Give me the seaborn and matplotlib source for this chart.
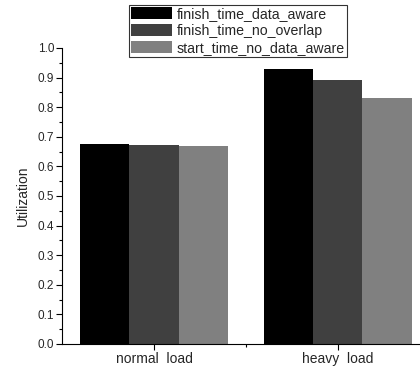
import matplotlib
matplotlib.use("Agg")
import matplotlib.pyplot as plt
import seaborn as sns
import pandas as pd
from matplotlib.ticker import MultipleLocator, FixedLocator

categories = ["normal  load", "heavy  load"]
series = ["finish_time_data_aware", "finish_time_no_overlap", "start_time_no_data_aware"]
finish_time_data_aware = [0.676, 0.929]
finish_time_no_overlap = [0.672, 0.893]
start_time_no_data_aware = [0.668, 0.830]
colors = ["#000000", "#404040", "#808080"]

rows = []
for s, vals in zip(series, [finish_time_data_aware, finish_time_no_overlap, start_time_no_data_aware]):
    for c, v in zip(categories, vals):
        rows.append({"load": c, "series": s, "value": v})
df = pd.DataFrame(rows)

sns.set_style("ticks")
plt.rcParams["font.family"] = ["Liberation Sans", "DejaVu Sans"]

fig = plt.figure(figsize=(4.2, 3.71), dpi=100)
ax = fig.add_axes([62/420, 1-344/371, 358/420, 296/371])
sns.barplot(data=df, x="load", y="value", hue="series", palette=colors,
            hue_order=series, order=categories, width=0.8, saturation=1,
            edgecolor="none", linewidth=0, ax=ax)

ax.set_xlim(-0.5, 1.446)
ax.set_ylim(0, 1.0)
ax.yaxis.set_major_locator(MultipleLocator(0.1))
ax.yaxis.set_minor_locator(MultipleLocator(0.05))
ax.xaxis.set_minor_locator(FixedLocator([0.5]))
ax.set_yticklabels([f"{t:.1f}" for t in ax.get_yticks()])
ax.tick_params(axis="both", which="major", direction="out", length=4, width=0.8, labelsize=8.5, pad=1.5, color="black")
ax.tick_params(axis="both", which="minor", direction="out", length=2.5, width=0.8, color="black")
ax.tick_params(axis="x", labelsize=10, pad=2)
ax.set_xlabel("")
ax.set_ylabel("Utilization", fontsize=10, labelpad=6)
for side in ["top", "right"]:
    ax.spines[side].set_visible(False)
for side in ["left", "bottom"]:
    ax.spines[side].set_linewidth(0.8)
    ax.spines[side].set_color("black")

leg = ax.legend(loc="upper left", bbox_to_anchor=(129/420, 1-5/371), bbox_transform=fig.transFigure,
                fontsize=10.2, frameon=True, fancybox=False, edgecolor="black",
                handlelength=2.9, handleheight=0.9, handletextpad=0.3, borderpad=0.15,
                labelspacing=0.2, borderaxespad=0)
leg.get_frame().set_linewidth(0.8)

fig.savefig("out.png", dpi=100)
